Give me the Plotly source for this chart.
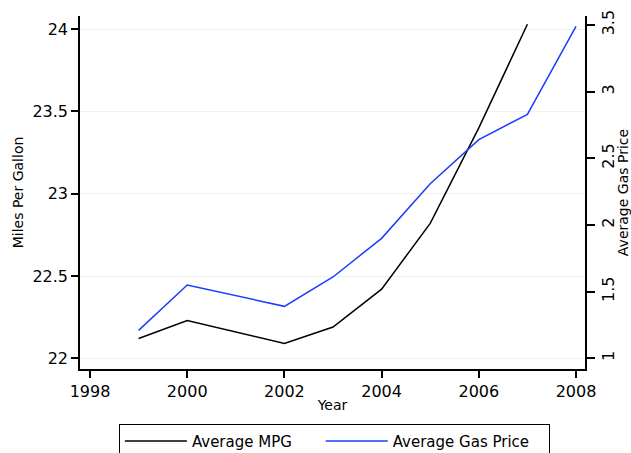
import plotly.graph_objects as go

years_mpg = [1999, 2000, 2002, 2003, 2004, 2005, 2006, 2007]
avg_mpg = [22.12, 22.23, 22.09, 22.19, 22.42, 22.82, 23.40, 24.03]

years_gas = [1999, 2000, 2002, 2003, 2004, 2005, 2006, 2007, 2008]
avg_gas = [1.21, 1.55, 1.39, 1.61, 1.90, 2.31, 2.64, 2.83, 3.49]

x_ticks = [1998, 2000, 2002, 2004, 2006, 2008]
left_ticks = [22, 22.5, 23, 23.5, 24]
right_ticks = [1, 1.5, 2, 2.5, 3, 3.5]

FONT = "DejaVu Sans"
PAD1 = "\u00a0" * 5
PAD2 = "\u00a0" * 3

fig = go.Figure()
fig.add_trace(go.Scatter(x=years_mpg, y=avg_mpg, mode="lines", name="Average MPG" + PAD1,
                         line=dict(color="black", width=1.5), yaxis="y"))
fig.add_trace(go.Scatter(x=years_gas, y=avg_gas, mode="lines", name="Average Gas Price" + PAD2,
                         line=dict(color="#1a3cff", width=1.5), yaxis="y2"))

fig.update_layout(
    width=631, height=453,
    margin=dict(l=80, r=46, t=16, b=84, autoexpand=False),
    paper_bgcolor="white", plot_bgcolor="white",
    font=dict(family=FONT, size=14, color="black"),
    showlegend=True,
    legend=dict(orientation="h", x=0.077, xanchor="left", y=-0.155, yanchor="top",
                bordercolor="black", borderwidth=1, font=dict(size=15),
                itemwidth=62, tracegroupgap=0),
    xaxis=dict(range=[1997.794, 2008.185], tickvals=x_ticks, ticks="outside", ticklen=7,
               tickwidth=1.5, tickcolor="black", showline=True, linecolor="black", linewidth=1.5,
               showgrid=False, zeroline=False, tickfont=dict(size=16), automargin=False,
               title=dict(text="Year", font=dict(size=14), standoff=0)),
    yaxis=dict(range=[21.935, 24.080], tickvals=left_ticks, ticktext=["22", "22.5", "23", "23.5", "24"],
               ticks="outside", ticklen=7, tickwidth=1.5, tickcolor="black",
               showline=True, linecolor="black", linewidth=1.5, automargin=False,
               showgrid=True, gridcolor="#eaf2f2", gridwidth=1, zeroline=False,
               tickfont=dict(size=16),
               title=dict(text="Miles Per Gallon", font=dict(size=14), standoff=6)),
    yaxis2=dict(range=[0.92, 3.5675], tickvals=right_ticks, ticktext=["1", "1.5", "2", "2.5", "3", "3.5"],
                overlaying="y", side="right", ticks="outside", ticklen=8, tickwidth=1.5,
                tickcolor="black", showline=True, linecolor="black", linewidth=1.5, automargin=False,
                showgrid=False, zeroline=False, tickangle=-90, tickfont=dict(size=16),
                title=dict(text="Average Gas Price", font=dict(size=14), standoff=0)),
)

fig.write_html("out.html", config={"displayModeBar": False},
               post_script="document.body.style.margin='0px';")
